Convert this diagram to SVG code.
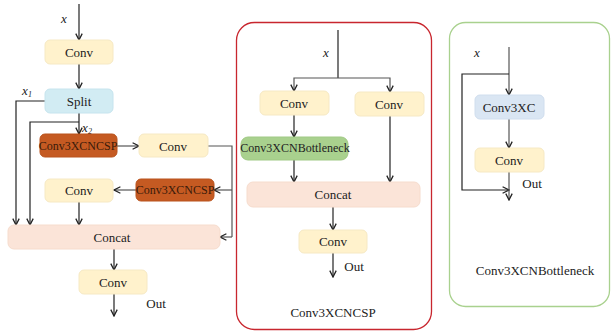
<svg xmlns="http://www.w3.org/2000/svg" width="612" height="334" viewBox="0 0 612 334" font-family="'Liberation Serif', 'Times New Roman', serif">
  <defs>
    <style>
      text { font-family: 'Liberation Serif', 'Times New Roman', serif; font-size: 13px; fill: #222; text-anchor: middle; dominant-baseline: central; }
      .it { font-style: italic; }
      .sm { font-size: 12px; }
      .conv { fill: #fff2cc; stroke: #f6e9c4; stroke-width: 1; }
      .split { fill: #d2ecf3; stroke: #c6e4ee; stroke-width: 1; }
      .csp { fill: #c55a22; stroke: #b9531d; stroke-width: 1; }
      .bneck { fill: #a9d18e; stroke: #a0c985; stroke-width: 1; }
      .concat { fill: #fbe4d8; stroke: #f6dccd; stroke-width: 1; }
      .c3xc { fill: #dae6f3; stroke: #d0deee; stroke-width: 1; }
      .dark { fill: #3a1a0a; }
      .wire { fill: none; stroke: #222; stroke-width: 1.2; }
      .wire-g { fill: none; stroke: #555; stroke-width: 1.2; }
      .arr { marker-end: url(#head); }
    </style>
    <marker id="head" viewBox="0 0 10 10" refX="9" refY="5" markerWidth="8" markerHeight="8" markerUnits="userSpaceOnUse" orient="auto">
      <polyline points="1,1 9,5 1,9" fill="none" stroke="#222" stroke-width="1.6"/>
    </marker>
  </defs>

  <!-- panel frames -->
  <rect x="236.5" y="22.5" width="195" height="307" rx="18" fill="none" stroke="#c8262e" stroke-width="1.3"/>
  <rect x="449.5" y="22.5" width="160" height="284" rx="16" fill="none" stroke="#a9d18e" stroke-width="1.3"/>

  <!-- connectors -->
  <g id="connectors">
    <!-- left: main block -->
    <line class="wire arr" x1="79" y1="4" x2="79" y2="40"/>
    <line class="wire arr" x1="79" y1="64" x2="79" y2="89"/>
    <polyline class="wire arr" points="45,101 16,101 16,225"/>
    <polyline class="wire arr" points="79,122 30,122 30,225"/>
    <line class="wire arr" x1="79" y1="113" x2="79" y2="134"/>
    <line class="wire-g arr" x1="117" y1="146" x2="139" y2="146"/>
    <polyline class="wire-g" points="208,146 232,146 232,237"/>
    <line class="wire-g arr" x1="232" y1="237" x2="220" y2="237"/>
    <line class="wire-g arr" x1="232" y1="190" x2="214" y2="190"/>
    <line class="wire-g arr" x1="136" y1="190" x2="114" y2="190"/>
    <line class="wire arr" x1="79" y1="202" x2="79" y2="225"/>
    <line class="wire arr" x1="114" y1="249" x2="114" y2="270"/>
    <line class="wire arr" x1="114" y1="294" x2="114" y2="316"/>

    <!-- middle: Conv3XCNCSP -->
    <line class="wire" x1="338" y1="30" x2="338" y2="78"/>
    <polyline class="wire-g arr" points="338,78 294,78 294,91"/>
    <polyline class="wire-g arr" points="338,78 390,78 390,92"/>
    <line class="wire arr" x1="294" y1="115" x2="294" y2="137"/>
    <line class="wire arr" x1="294" y1="160" x2="294" y2="182"/>
    <line class="wire arr" x1="390" y1="116" x2="390" y2="182"/>
    <line class="wire arr" x1="333" y1="207" x2="333" y2="230"/>
    <line class="wire arr" x1="333" y1="253" x2="333" y2="277"/>

    <!-- right: Conv3XCNBottleneck -->
    <line class="wire-g arr" x1="509" y1="47" x2="509" y2="95"/>
    <polyline class="wire arr" points="509,74 462,74 462,190 509,190"/>
    <line class="wire-g arr" x1="509" y1="119" x2="509" y2="148"/>
    <line class="wire-g arr" x1="509" y1="172" x2="509" y2="200"/>
  </g>

  <!-- labels on wires -->
  <text class="it" x="64" y="18">x</text>
  <text class="it" x="27" y="90">x<tspan font-size="8" dy="4">1</tspan></text>
  <text class="it" x="87" y="127">x<tspan font-size="8" dy="4">2</tspan></text>
  <text x="156" y="303">Out</text>
  <text class="it" x="326" y="52">x</text>
  <text x="354" y="266">Out</text>
  <text class="it" x="477" y="52">x</text>
  <text x="532" y="183">Out</text>

  <!-- left nodes -->
  <g id="l-conv1"><rect class="conv" x="45" y="40" width="68" height="24" rx="5"/><text x="79" y="52">Conv</text></g>
  <g id="l-split"><rect class="split" x="45" y="89" width="68" height="24" rx="5"/><text x="79" y="101">Split</text></g>
  <g id="l-csp1"><rect class="csp" x="40" y="134" width="77" height="23" rx="5"/><text class="dark sm" x="78" y="146">Conv3XCNCSP</text></g>
  <g id="l-conv2"><rect class="conv" x="139" y="134" width="69" height="23" rx="5"/><text x="173" y="146">Conv</text></g>
  <g id="l-csp2"><rect class="csp" x="136" y="179" width="78" height="22" rx="5"/><text class="dark sm" x="175" y="190">Conv3XCNCSP</text></g>
  <g id="l-conv3"><rect class="conv" x="45" y="179" width="68" height="23" rx="5"/><text x="79" y="190">Conv</text></g>
  <g id="l-concat"><rect class="concat" x="8" y="225" width="212" height="24" rx="6"/><text x="112" y="237">Concat</text></g>
  <g id="l-conv4"><rect class="conv" x="79" y="270" width="68" height="24" rx="5"/><text x="113" y="282">Conv</text></g>

  <!-- middle nodes -->
  <g id="m-conv1"><rect class="conv" x="260" y="91" width="69" height="24" rx="5"/><text x="294" y="103">Conv</text></g>
  <g id="m-conv2"><rect class="conv" x="355" y="92" width="69" height="24" rx="5"/><text x="389" y="104">Conv</text></g>
  <g id="m-bneck"><rect class="bneck" x="241" y="137" width="107" height="23" rx="7"/><text class="sm" x="295" y="148">Conv3XCNBottleneck</text></g>
  <g id="m-concat"><rect class="concat" x="247" y="182" width="173" height="25" rx="6"/><text x="333" y="194">Concat</text></g>
  <g id="m-conv3"><rect class="conv" x="299" y="230" width="68" height="23" rx="5"/><text x="333" y="241">Conv</text></g>
  <text x="333" y="312">Conv3XCNCSP</text>

  <!-- right nodes -->
  <g id="r-c3xc"><rect class="c3xc" x="475" y="95" width="69" height="24" rx="5"/><text x="509" y="107">Conv3XC</text></g>
  <g id="r-conv"><rect class="conv" x="475" y="148" width="69" height="24" rx="5"/><text x="509" y="160">Conv</text></g>
  <text x="535" y="270">Conv3XCNBottleneck</text>
</svg>
